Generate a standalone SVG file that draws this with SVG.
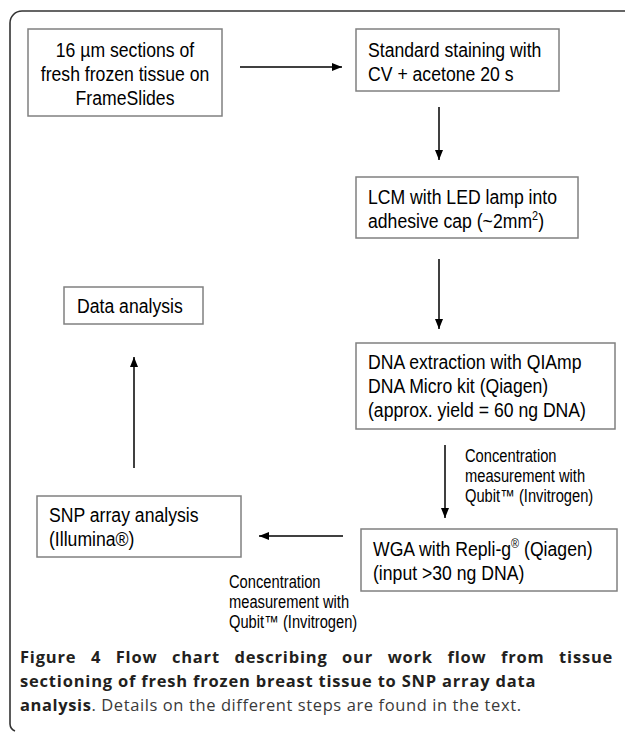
<svg xmlns="http://www.w3.org/2000/svg" width="625" height="734" viewBox="0 0 625 734">
<defs>
<style>
.box{fill:#fff;stroke:#808080;stroke-width:1.5}
.t{font-family:"Liberation Sans",Arial,sans-serif;font-size:21px;fill:#000}
.lbl{font-family:"Liberation Sans",Arial,sans-serif;font-size:17.5px;fill:#000}
.con{stroke:#000;stroke-width:1.5;fill:none}
.cap{font-family:"Open Sans","Noto Sans",sans-serif;font-size:16.5px;letter-spacing:0.8px;fill:#231f20}
.b{font-weight:bold}
</style>
<marker id="ah" viewBox="0 0 10 10" refX="10" refY="5" markerWidth="10" markerHeight="10" markerUnits="userSpaceOnUse" orient="auto">
<path d="M0,1 L10,5 L0,9 Z" fill="#000"/>
</marker>
</defs>
<rect width="625" height="734" fill="#fff"/>
<path d="M625,11 H22 A12 12 0 0 0 10,23 V724 A8 8 0 0 0 15,731" fill="none" stroke="#333" stroke-width="1.6"/>

<g id="n1">
<rect class="box" x="28" y="29" width="194" height="87"/>
<text class="t" text-anchor="middle" transform="translate(125,57) scale(0.84,1)"><tspan x="0" y="0">16 µm sections of</tspan><tspan x="0" y="24">fresh frozen tissue on</tspan><tspan x="0" y="48">FrameSlides</tspan></text>
</g>
<g id="n2">
<rect class="box" x="356" y="29" width="203" height="62"/>
<text class="t" transform="translate(368,57) scale(0.84,1)"><tspan x="0" y="0">Standard staining with</tspan><tspan x="0" y="24">CV + acetone 20 s</tspan></text>
</g>
<g id="n3">
<rect class="box" x="356" y="177" width="222" height="61"/>
<text class="t" transform="translate(368,204) scale(0.84,1)"><tspan x="0" y="0">LCM with LED lamp into</tspan><tspan x="0" y="24">adhesive cap (~2mm<tspan font-size="13" dy="-8">2</tspan><tspan dy="8">)</tspan></tspan></text>
</g>
<g id="n4">
<rect class="box" x="356" y="343" width="259" height="86"/>
<text class="t" transform="translate(368,369) scale(0.84,1)"><tspan x="0" y="0">DNA extraction with QIAmp</tspan><tspan x="0" y="24">DNA Micro kit (Qiagen)</tspan><tspan x="0" y="48">(approx. yield = 60 ng DNA)</tspan></text>
</g>
<g id="n5">
<rect class="box" x="361" y="529" width="256" height="62"/>
<text class="t" transform="translate(373,556) scale(0.84,1)"><tspan x="0" y="0">WGA with Repli-g<tspan font-size="13" dy="-8">®</tspan><tspan dy="8"> (Qiagen)</tspan></tspan><tspan x="0" y="24">(input &gt;30 ng DNA)</tspan></text>
</g>
<g id="n6">
<rect class="box" x="37" y="496" width="204" height="61"/>
<text class="t" transform="translate(49,522) scale(0.84,1)"><tspan x="0" y="0">SNP array analysis</tspan><tspan x="0" y="24">(Illumina®)</tspan></text>
</g>
<g id="n7">
<rect class="box" x="64" y="287" width="139" height="37"/>
<text class="t" transform="translate(77,313) scale(0.84,1)">Data analysis</text>
</g>

<g id="connectors">
<line class="con" x1="240" y1="67" x2="342" y2="67" marker-end="url(#ah)"/>
<line class="con" x1="439" y1="107" x2="439" y2="160" marker-end="url(#ah)"/>
<line class="con" x1="439" y1="259" x2="439" y2="329" marker-end="url(#ah)"/>
<line class="con" x1="445" y1="445" x2="445" y2="518" marker-end="url(#ah)"/>
<line class="con" x1="343" y1="536" x2="259" y2="536" marker-end="url(#ah)"/>
<line class="con" x1="134" y1="468" x2="134" y2="357" marker-end="url(#ah)"/>
<text class="lbl" transform="translate(465,462) scale(0.84,1)"><tspan x="0" y="0">Concentration</tspan><tspan x="0" y="20">measurement with</tspan><tspan x="0" y="40">Qubit™ (Invitrogen)</tspan></text>
<text class="lbl" transform="translate(229,588) scale(0.84,1)"><tspan x="0" y="0">Concentration</tspan><tspan x="0" y="20">measurement with</tspan><tspan x="0" y="40">Qubit™ (Invitrogen)</tspan></text>
</g>

<g id="caption">
<text class="cap b" x="20" y="663" word-spacing="9.5">Figure 4 Flow chart describing our work flow from tissue</text>
<text class="cap b" x="20" y="687">sectioning of fresh frozen breast tissue to SNP array data</text>
<text class="cap" x="20" y="711" style="letter-spacing:0.6px"><tspan class="b">analysis</tspan><tspan fill="#3a3a3a">. Details on the different steps are found in the text.</tspan></text>
</g>
</svg>
